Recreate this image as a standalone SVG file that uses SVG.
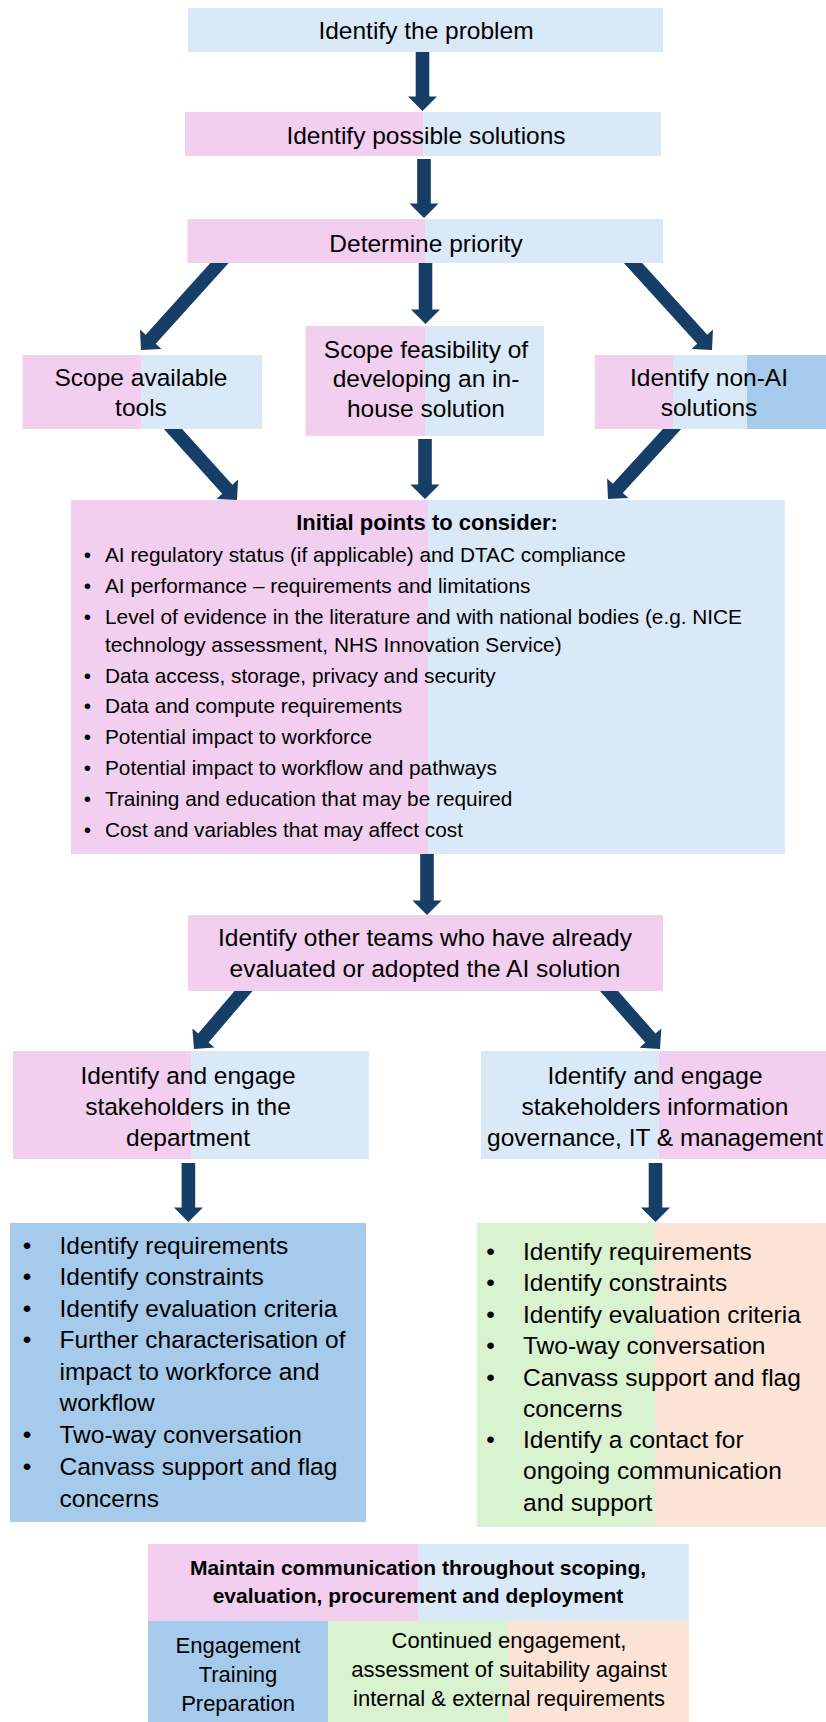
<svg xmlns="http://www.w3.org/2000/svg" width="826" height="1722" viewBox="0 0 826 1722">
<style>
.pk{fill:#F2CEEF}.lb{fill:#DAE9F8}.mb{fill:#A6CAEC}.gr{fill:#D9F2D0}.pc{fill:#FBE3D6}
text{font-family:"Liberation Sans",Arial,sans-serif;font-size:24.5px;fill:#000}
.c{text-anchor:middle}
.s{font-size:20.8px}
.b{font-weight:bold}
.t22{font-size:22px}
.arr{fill:#173E66}
</style>
<rect width="826" height="1722" fill="#fff"/>
<g id="connectors" class="arr">
  <g transform="translate(422.5,111) rotate(90)"><polygon points="-61,-6.8 -14.5,-6.8 -14.5,-14.5 0,0 -14.5,14.5 -14.5,6.8 -61,6.8"/></g>
  <g transform="translate(424,218) rotate(90)"><polygon points="-59,-6.8 -14.5,-6.8 -14.5,-14.5 0,0 -14.5,14.5 -14.5,6.8 -59,6.8"/></g>
  <g transform="translate(425.5,324) rotate(90)"><polygon points="-63,-6.8 -14.5,-6.8 -14.5,-14.5 0,0 -14.5,14.5 -14.5,6.8 -63,6.8"/></g>
  <g transform="translate(141,350) rotate(132.06)"><polygon points="-127,-6.8 -14.5,-6.8 -14.5,-14.5 0,0 -14.5,14.5 -14.5,6.8 -127,6.8"/></g>
  <g transform="translate(712,350) rotate(47.76)"><polygon points="-127,-6.8 -14.5,-6.8 -14.5,-14.5 0,0 -14.5,14.5 -14.5,6.8 -127,6.8"/></g>
  <g transform="translate(425,499) rotate(90)"><polygon points="-60,-6.8 -14.5,-6.8 -14.5,-14.5 0,0 -14.5,14.5 -14.5,6.8 -60,6.8"/></g>
  <g transform="translate(237,500) rotate(47.97)"><polygon points="-105,-6.8 -14.5,-6.8 -14.5,-14.5 0,0 -14.5,14.5 -14.5,6.8 -105,6.8"/></g>
  <g transform="translate(608,499) rotate(132.44)"><polygon points="-104,-6.8 -14.5,-6.8 -14.5,-14.5 0,0 -14.5,14.5 -14.5,6.8 -104,6.8"/></g>
  <g transform="translate(427,915) rotate(90)"><polygon points="-61,-6.8 -14.5,-6.8 -14.5,-14.5 0,0 -14.5,14.5 -14.5,6.8 -61,6.8"/></g>
  <g transform="translate(194,1049) rotate(130.48)"><polygon points="-85.5,-6.8 -14.5,-6.8 -14.5,-14.5 0,0 -14.5,14.5 -14.5,6.8 -85.5,6.8"/></g>
  <g transform="translate(660,1049) rotate(48.67)"><polygon points="-86.5,-6.8 -14.5,-6.8 -14.5,-14.5 0,0 -14.5,14.5 -14.5,6.8 -86.5,6.8"/></g>
  <g transform="translate(188.4,1222) rotate(90)"><polygon points="-59,-6.8 -14.5,-6.8 -14.5,-14.5 0,0 -14.5,14.5 -14.5,6.8 -59,6.8"/></g>
  <g transform="translate(655.5,1222) rotate(90)"><polygon points="-59,-6.8 -14.5,-6.8 -14.5,-14.5 0,0 -14.5,14.5 -14.5,6.8 -59,6.8"/></g>
</g>
<g id="identify-problem">
  <rect class="lb" x="188" y="8" width="475" height="44"/>
  <text class="c" x="426" y="39">Identify the problem</text>
</g>
<g id="possible-solutions">
  <rect class="pk" x="185" y="112" width="238" height="44"/>
  <rect class="lb" x="423" y="112" width="238" height="44"/>
  <text class="c" x="426" y="144">Identify possible solutions</text>
</g>
<g id="determine-priority">
  <rect class="pk" x="187.5" y="219" width="237.5" height="44"/>
  <rect class="lb" x="425" y="219" width="238" height="44"/>
  <text class="c" x="426" y="252">Determine priority</text>
</g>
<g id="scope-tools">
  <rect class="pk" x="22.6" y="355" width="118.4" height="74"/>
  <rect class="lb" x="141" y="355" width="121" height="74"/>
  <text class="c" x="141" y="386">Scope available</text>
  <text class="c" x="141" y="416">tools</text>
</g>
<g id="scope-feasibility">
  <rect class="pk" x="305.6" y="326" width="119.4" height="110"/>
  <rect class="lb" x="425" y="326" width="119" height="110"/>
  <text class="c" x="426" y="358">Scope feasibility of</text>
  <text class="c" x="426" y="387">developing an in-</text>
  <text class="c" x="426" y="417">house solution</text>
</g>
<g id="non-ai">
  <rect class="pk" x="595" y="355" width="78" height="74"/>
  <rect class="lb" x="673" y="355" width="74" height="74"/>
  <rect class="mb" x="747" y="355" width="79" height="74"/>
  <text class="c" x="709" y="386">Identify non-AI</text>
  <text class="c" x="709" y="416">solutions</text>
</g>
<g id="initial-points">
  <rect class="pk" x="71" y="500" width="357" height="354"/>
  <rect class="lb" x="428" y="500" width="357" height="354"/>
  <text class="c b t22" x="427" y="530">Initial points to consider:</text>
  <g class="s">
    <text class="s c" x="87.5" y="562">•</text><text class="s" x="105" y="562">AI regulatory status (if applicable) and DTAC compliance</text>
    <text class="s c" x="87.5" y="593">•</text><text class="s" x="105" y="593">AI performance – requirements and limitations</text>
    <text class="s c" x="87.5" y="624">•</text><text class="s" x="105" y="624">Level of evidence in the literature and with national bodies (e.g. NICE</text>
    <text class="s" x="105" y="652">technology assessment, NHS Innovation Service)</text>
    <text class="s c" x="87.5" y="683">•</text><text class="s" x="105" y="683">Data access, storage, privacy and security</text>
    <text class="s c" x="87.5" y="713">•</text><text class="s" x="105" y="713">Data and compute requirements</text>
    <text class="s c" x="87.5" y="744">•</text><text class="s" x="105" y="744">Potential impact to workforce</text>
    <text class="s c" x="87.5" y="775">•</text><text class="s" x="105" y="775">Potential impact to workflow and pathways</text>
    <text class="s c" x="87.5" y="806">•</text><text class="s" x="105" y="806">Training and education that may be required</text>
    <text class="s c" x="87.5" y="837">•</text><text class="s" x="105" y="837">Cost and variables that may affect cost</text>
  </g>
</g>
<g id="other-teams">
  <rect class="pk" x="188" y="915" width="475" height="76"/>
  <text class="c" x="425" y="946">Identify other teams who have already</text>
  <text class="c" x="425" y="977">evaluated or adopted the AI solution</text>
</g>
<g id="stakeholders-dept">
  <rect class="pk" x="13" y="1051" width="178" height="108"/>
  <rect class="lb" x="191" y="1051" width="178" height="108"/>
  <text class="c" x="188" y="1084">Identify and engage</text>
  <text class="c" x="188" y="1115">stakeholders in the</text>
  <text class="c" x="188" y="1146">department</text>
</g>
<g id="stakeholders-ig">
  <rect class="lb" x="481" y="1051" width="177.6" height="108"/>
  <rect class="pk" x="658.6" y="1051" width="167.4" height="108"/>
  <text class="c" x="655" y="1084">Identify and engage</text>
  <text class="c" x="655" y="1115">stakeholders information</text>
  <text class="c" x="655" y="1146">governance, IT &amp; management</text>
</g>
<g id="dept-list">
  <rect class="mb" x="10" y="1223" width="356" height="299"/>
  <text class="c" x="27" y="1254">•</text><text x="59.5" y="1254">Identify requirements</text>
  <text class="c" x="27" y="1285">•</text><text x="59.5" y="1285">Identify constraints</text>
  <text class="c" x="27" y="1317">•</text><text x="59.5" y="1317">Identify evaluation criteria</text>
  <text class="c" x="27" y="1348">•</text><text x="59.5" y="1348">Further characterisation of</text>
  <text x="59.5" y="1380">impact to workforce and</text>
  <text x="59.5" y="1411">workflow</text>
  <text class="c" x="27" y="1443">•</text><text x="59.5" y="1443">Two-way conversation</text>
  <text class="c" x="27" y="1475">•</text><text x="59.5" y="1475">Canvass support and flag</text>
  <text x="59.5" y="1507">concerns</text>
</g>
<g id="ig-list">
  <rect class="gr" x="477" y="1223" width="178" height="304"/>
  <rect class="pc" x="655" y="1223" width="171" height="304"/>
  <text class="c" x="490.5" y="1260">•</text><text x="523" y="1260">Identify requirements</text>
  <text class="c" x="490.5" y="1291">•</text><text x="523" y="1291">Identify constraints</text>
  <text class="c" x="490.5" y="1323">•</text><text x="523" y="1323">Identify evaluation criteria</text>
  <text class="c" x="490.5" y="1354">•</text><text x="523" y="1354">Two-way conversation</text>
  <text class="c" x="490.5" y="1386">•</text><text x="523" y="1386">Canvass support and flag</text>
  <text x="523" y="1417">concerns</text>
  <text class="c" x="490.5" y="1448">•</text><text x="523" y="1448">Identify a contact for</text>
  <text x="523" y="1479">ongoing communication</text>
  <text x="523" y="1511">and support</text>
</g>
<g id="maintain-communication">
  <rect class="pk" x="148" y="1544" width="270" height="77"/>
  <rect class="lb" x="418" y="1544" width="271" height="77"/>
  <rect class="mb" x="148" y="1621" width="180" height="101"/>
  <rect class="gr" x="328" y="1621" width="180" height="101"/>
  <rect class="pc" x="508" y="1621" width="181" height="101"/>
  <text class="c b" style="font-size:21px" x="418" y="1575">Maintain communication throughout scoping,</text>
  <text class="c b" style="font-size:21px" x="418" y="1603">evaluation, procurement and deployment</text>
  <text class="c t22" x="238" y="1653">Engagement</text>
  <text class="c t22" x="238" y="1682">Training</text>
  <text class="c t22" x="238" y="1711">Preparation</text>
  <text class="c t22" x="509" y="1648">Continued engagement,</text>
  <text class="c t22" x="509" y="1677">assessment of suitability against</text>
  <text class="c t22" x="509" y="1706">internal &amp; external requirements</text>
</g>
</svg>
